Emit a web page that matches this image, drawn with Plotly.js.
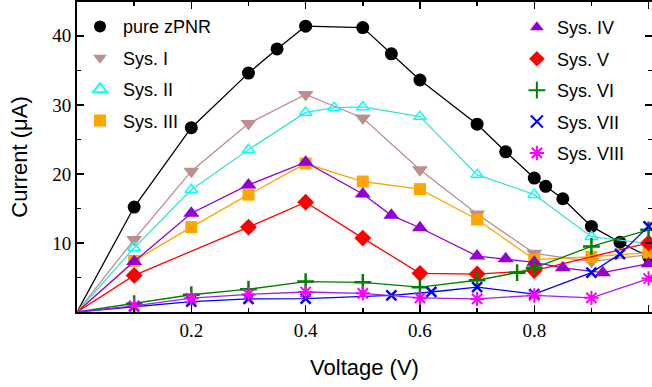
<!DOCTYPE html>
<html><head><meta charset="utf-8">
<script src="https://cdn.plot.ly/plotly-3.0.1.min.js"></script>
<style>html,body{margin:0;padding:0;background:#fff}#chart{width:652px;height:387px}</style>
</head><body><div id="chart"></div>
<script>
const names = ['pure zPNR','Sys. I','Sys. II','Sys. III','Sys. IV','Sys. V','Sys. VI','Sys. VII','Sys. VIII'];

const xPure = [0,0.1,0.2,0.3,0.35,0.4,0.5,0.55,0.6,0.7,0.75,0.8,0.82,0.85,0.9,0.95,1.0];
const yPure = [0,15.2,26.7,34.6,38.1,41.4,41.2,37.4,33.6,27.2,23.2,19.4,18.2,16.4,12.4,10.1,8.0];

const xS1 = [0,0.1,0.2,0.3,0.4,0.5,0.6,0.7,0.8,0.9,1.0];
const yS1 = [0,10.5,20.4,27.3,31.5,28.1,20.6,14.2,8.5,7.3,8.3];

const xS2 = [0,0.1,0.2,0.3,0.4,0.45,0.5,0.6,0.7,0.8,0.9,1.0];
const yS2 = [0,9.3,17.7,23.5,28.9,29.6,29.7,28.3,19.9,17.0,10.9,9.9];

const xS3 = [0,0.1,0.2,0.3,0.4,0.5,0.6,0.7,0.8,0.9,1.0];
const yS3 = [0,7.4,12.3,17.0,21.5,18.9,17.8,13.4,7.6,8.0,8.6];

const xS4 = [0,0.1,0.2,0.3,0.4,0.5,0.55,0.6,0.7,0.75,0.8,0.85,0.92,1.0];
const yS4 = [0,7.3,14.3,18.4,21.7,17.1,14.0,12.2,8.1,7.7,7.2,6.4,5.7,7.0];

const xS5 = [0,0.1,0.3,0.4,0.5,0.6,0.7,0.8,1.0];
const yS5 = [0,5.3,12.3,15.9,10.7,5.6,5.5,6.0,10.0];

const xS6 = [0,0.1,0.2,0.3,0.4,0.5,0.6,0.7,0.77,0.8,0.9,1.0];
const yS6 = [0,1.2,2.5,3.3,4.4,4.3,3.6,4.6,5.7,6.4,9.5,11.9];

const xS7 = [0,0.1,0.2,0.3,0.4,0.55,0.62,0.7,0.8,0.9,0.95,1.0];
const yS7 = [0,0.8,1.5,1.9,1.95,2.4,2.9,3.6,2.6,5.7,8.4,12.4];

const xS8 = [0,0.1,0.2,0.3,0.4,0.5,0.6,0.7,0.8,0.9,1.0];
const yS8 = [0,0.9,2.0,2.55,2.9,2.7,2.05,1.9,2.4,2.05,4.85];

const xTickVals = [0.2,0.4,0.6,0.8,1.0];
const xTickText = ['0.2','0.4','0.6','0.8','1'];
const yTickVals = [10,20,30,40];
const yTickText = ['10','20','30','40'];

const series = [
  {x:xPure, y:yPure, line:'#000000', mk:{symbol:'circle', size:13, color:'#000000'}, lg:'legend'},
  {x:xS1, y:yS1, line:'#bc8f8f', mk:{symbol:'triangle-down', size:14, color:'#bc8f8f'}, lg:'legend'},
  {x:xS2, y:yS2, line:'#40e0d0', mk:{symbol:'triangle-up-open', size:11, color:'#00ffff', line:{width:1.5,color:'#00ffff'}}, lg:'legend'},
  {x:xS3, y:yS3, line:'#ffa500', mk:{symbol:'square', size:12, color:'#ffa500'}, lg:'legend'},
  {x:xS4, y:yS4, line:'#9400d3', mk:{symbol:'triangle-up', size:14, color:'#9400d3'}, lg:'legend2'},
  {x:xS5, y:yS5, line:'#ff0000', mk:{symbol:'diamond', size:13, color:'#ff0000'}, lg:'legend2'},
  {x:xS6, y:yS6, line:'#008000', mk:{symbol:'cross-thin-open', size:12, color:'#008000', line:{width:2.5,color:'#008000'}}, lg:'legend2'},
  {x:xS7, y:yS7, line:'#0000ff', mk:{symbol:'x-thin-open', size:10, color:'#0000ff', line:{width:2.5,color:'#0000ff'}}, lg:'legend2'},
  {x:xS8, y:yS8, line:'#a020f0', mk:{symbol:'asterisk-open', size:12, color:'#ff00ff', line:{width:2,color:'#ff00ff'}}, lg:'legend2'}
];

const traces = [];
series.forEach((s,i)=>{
  traces.push({x:s.x, y:s.y, type:'scatter', mode:'lines', line:{color:s.line, width:1.3},
    showlegend:false, legendgroup:'g'+i, hoverinfo:'skip', cliponaxis:true});
  traces.push({x:s.x.slice(1), y:s.y.slice(1), type:'scatter', mode:'markers', name:names[i],
    marker:s.mk, legend:s.lg, legendgroup:'g'+i, cliponaxis:false});
});

const legFont = {family:'Liberation Sans, Arial, sans-serif', size:18, color:'#000'};
const layout = {
  width:652, height:387,
  margin:{l:77, r:0, t:2, b:75},
  paper_bgcolor:'#fff', plot_bgcolor:'#fff',
  showlegend:true,
  legend:{x:0.0, y:0.98, xanchor:'left', yanchor:'top', font:legFont, bgcolor:'rgba(0,0,0,0)',
    tracegroupgap:5, itemsizing:'constant', traceorder:'grouped', itemwidth:36},
  legend2:{x:0.765, y:0.977, xanchor:'left', yanchor:'top', font:legFont, bgcolor:'rgba(0,0,0,0)',
    tracegroupgap:5, itemsizing:'constant', traceorder:'grouped'},
  xaxis:{range:[0,1.006], showgrid:false, zeroline:false, showline:true, linewidth:2, linecolor:'#000',
    mirror:'ticks', ticks:'inside', ticklen:7, tickwidth:1.5, tickcolor:'#000',
    tickmode:'array', tickvals:xTickVals, ticktext:xTickText,
    minor:{dtick:0.1, tick0:0, ticks:'inside', ticklen:4, tickwidth:1.5, tickcolor:'#000'},
    tickfont:{family:'Liberation Serif, Times New Roman, serif', size:19, color:'#000'},
    title:{text:'Voltage (V)', font:{family:'Liberation Sans, Arial, sans-serif', size:22, color:'#000'}, standoff:20}},
  yaxis:{range:[0,44.9], showgrid:false, zeroline:false, showline:true, linewidth:2, linecolor:'#000',
    mirror:'ticks', ticks:'inside', ticklen:7, tickwidth:1.5, tickcolor:'#000',
    tickmode:'array', tickvals:yTickVals, ticktext:yTickText,
    minor:{dtick:5, tick0:0, ticks:'inside', ticklen:4, tickwidth:1.5, tickcolor:'#000'},
    tickfont:{family:'Liberation Serif, Times New Roman, serif', size:19, color:'#000'},
    title:{text:'Current (μA)', font:{family:'Liberation Sans, Arial, sans-serif', size:22, color:'#000'}, standoff:19}}
};

Plotly.newPlot('chart', traces, layout, {displayModeBar:false, staticPlot:true});
</script>
</body></html>
